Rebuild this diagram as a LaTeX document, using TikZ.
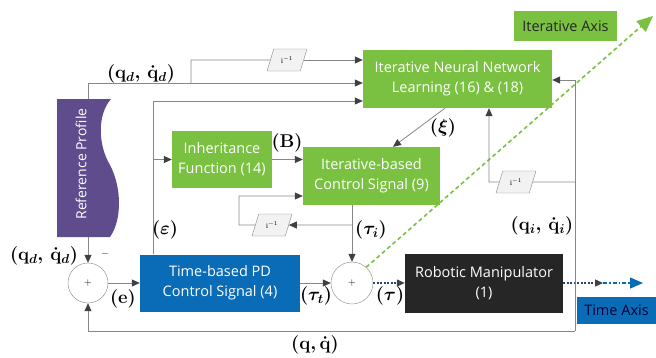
\RequirePackage{fix-cm}
\documentclass[tikz,border=0pt]{standalone}
\usepackage{amsmath,bm}
\usepackage{fontspec}
\newfontfamily\boxfont{Open Sans}
\usetikzlibrary{arrows.meta,shapes.geometric}
\definecolor{ggreen}{RGB}{122,193,66}
\definecolor{gpurple}{RGB}{94,76,140}
\definecolor{gblue}{RGB}{10,108,182}
\definecolor{gblack}{RGB}{38,38,38}
\definecolor{gline}{RGB}{135,135,135}
\definecolor{gtip}{RGB}{64,64,64}
\definecolor{gpara}{RGB}{242,242,242}
\definecolor{gdot}{RGB}{40,70,110}
\begin{document}
\begin{tikzpicture}[x=1pt,y=-1pt,
  bx/.style={inner sep=0pt, align=center, text=white, font=\boxfont\fontsize{14.5}{20}\selectfont},
  gbox/.style={bx, fill=ggreen},
  para/.style={trapezium, trapezium left angle=65, trapezium right angle=115, trapezium stretches=true,
     minimum width=40pt, minimum height=22pt, draw=gline, fill=gpara, inner sep=0pt, font=\footnotesize},
  sumn/.style={circle, draw=gline, fill=white, minimum size=#1, inner sep=0pt, font=\normalsize},
  ln/.style={draw=gline, line width=0.8pt},
  arr/.style={ln, -{Triangle[length=8pt,width=7pt,color=gtip]}},
  dotarr/.style={draw=gdot, line width=1.3pt, dash pattern=on 2pt off 1.5pt, -{Triangle[length=8pt,width=7pt,color=gtip]}},
  bluearr/.style={draw=gblue, line width=1.3pt, dash pattern=on 4pt off 2pt on 1.5pt off 2pt, -{Triangle[length=13pt,width=11pt,color=gblue]}},
  gaxis/.style={draw=ggreen, line width=1.6pt, dash pattern=on 4pt off 3pt, -{Triangle[length=16pt,width=14pt,color=ggreen]}},
  lab/.style={font=\fontsize{18.5}{22}\selectfont\boldmath, inner sep=1pt}
]
\useasboundingbox (0,0) rectangle (656,357);

% Reference profile shape
\fill[gpurple] (57,99) -- (111,99) .. controls (97,115) and (98,145) .. (110,165)
   .. controls (122,188) and (122,220) .. (110,237) -- (57,237) -- cycle;
\node[rotate=90, bx, font=\boxfont\fontsize{14}{18}\selectfont] (rp) at (81,164) {Reference Profile};
\coordinate (rpT) at (88,99);
\coordinate (rpB) at (88,237);

% blocks
\node[gbox, minimum width=189pt, minimum height=58pt] (nn) at (457.5,79) {Iterative Neural Network\\Learning (16) \& (18)};
\node[gbox, minimum width=100pt, minimum height=57pt] (inh) at (222,159.5) {Inheritance\\Function (14)};
\node[gbox, minimum width=137pt, minimum height=58pt] (itb) at (371.5,176) {Iterative-based\\Control Signal (9)};
\node[bx, fill=gblue, minimum width=160pt, minimum height=57pt] (pd) at (220,283) {Time-based PD\\Control Signal (4)};
\node[bx, fill=gblack, minimum width=158pt, minimum height=59pt] (robot) at (484,283) {Robotic Manipulator\\(1)};
\node[bx, fill=ggreen, text=black!85, minimum width=103pt, minimum height=30pt] (iax) at (565.5,26) {Iterative Axis};
\node[bx, fill=gblue, text=black!80!blue, minimum width=79pt, minimum height=27pt] (tax) at (616.5,310.5) {Time Axis};

\node[sumn=40pt] (s1) at (88,283) {+};
\node[sumn=42pt] (s2) at (352,283) {+};

\node[para] (d1) at (287,60) {$\mathrm{i}^{-1}$};
\node[para] (d2) at (272,225) {$\mathrm{i}^{-1}$};
\node[para] (d3) at (516,182) {$\mathrm{i}^{-1}$};

% green iterative axis
\coordinate (ia) at (653,16);
\draw[gaxis] (s2.48) -- (ia);

% top reference line
\coordinate (c1) at (88,83);
\coordinate (c2) at (191,83);
\coordinate (c3) at (191,60);
\draw[arr] (rpT) -- (c1) -- (c1 -| nn.west);
\draw[ln] (c2) -- (c3) -- (d1.west);
\draw[arr] (d1.east) -- (d1.east -| nn.west);

% epsilon line
\coordinate (e1) at (153,101);
\draw[arr] (pd.north -| e1) -- (e1) -- (e1 -| nn.west);
\draw[arr] (inh.west -| e1) -- (inh.west);

% B
\draw[arr] (inh.east) -- (inh.east -| itb.west);

% xi
\coordinate (xi1) at ([xshift=-12.5pt]nn.south);
\coordinate (xi2) at ([xshift=21.5pt]itb.north);
\draw[arr] (xi1) -- (xi2);

% tau_i
\draw[arr] (itb.south -| s2.north) -- (s2.north);
\coordinate (l1) at (352,225);
\coordinate (l2) at (239,225);
\coordinate (l3) at (239,196);
\draw[arr] (l1) -- (d2.east);
\draw[arr] (d2.west) -- (l2) -- (l3) -- (l3 -| itb.west);

% main loop
\draw[arr] (rpB) -- (s1.north);
\draw[arr] (s1.east) -- (pd.west);
\draw[arr] (pd.east) -- (s2.west);
\draw[dotarr] (s2.east) -- (robot.west);
\coordinate (o1) at (603,283);
\coordinate (o2) at (643,283);
\draw[dotarr] (robot.east) -- (o1);
\draw[bluearr] (o1) -- (o2);

% feedback frame
\coordinate (f1) at (575,80);
\coordinate (f2) at (575,331);
\coordinate (f3) at (88,331);
\draw[arr] (f2) -- (f1) -- (f1 -| nn.east);
\draw[arr] (f2) -- (f3) -- (s1.south);
\coordinate (r1) at (575,182);
\coordinate (r2) at (489,182);
\draw[ln] (r1) -- (d3.east);
\draw[arr] (d3.west) -- (r2) -- (r2 |- nn.south);

% labels
\node[lab] (lqd1) at (141,74) {$(\mathbf{q}_d,\,\dot{\mathbf{q}}_d)$};
\node[lab] (lqd2) at (44,256) {$(\mathbf{q}_d,\,\dot{\mathbf{q}}_d)$};
\node (lminus) at (105,254) {$-$};
\node[lab] (leps) at (165,230) {$(\bm{\varepsilon})$};
\node[lab] (lB) at (287,143) {$(\mathbf{B})$};
\node[lab] (lxi) at (443,128) {$(\bm{\xi})$};
\node[lab] (lti) at (371,230) {$(\bm{\tau}_i)$};
\node[lab] (le) at (123,299) {$(\mathbf{e})$};
\node[lab] (ltt) at (316,296) {$(\bm{\tau}_t)$};
\node[lab] (ltau) at (390,296) {$(\bm{\tau})$};
\node[lab] (lqi) at (542,226) {$(\mathbf{q}_i,\,\dot{\mathbf{q}}_i)$};
\node[lab] (lq) at (315,345) {$(\mathbf{q},\dot{\mathbf{q}})$};
\end{tikzpicture}
\end{document}
